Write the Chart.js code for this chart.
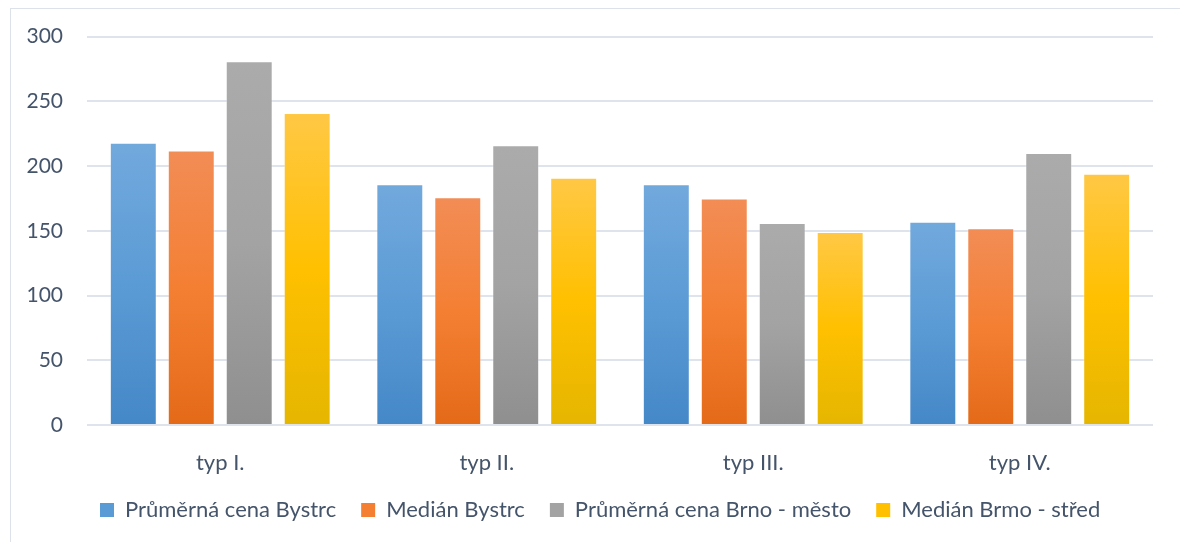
<!DOCTYPE html>
<html>
<head>
<meta charset="utf-8">
<script src="https://cdn.jsdelivr.net/npm/chart.js@4/dist/chart.umd.min.js"></script>
<style>
  html, body { margin: 0; padding: 0; background: #fff; }
  #ramec { position: absolute; left: 10px; top: 8px; width: 1200px; height: 600px; border: 1px solid #dde2ea; }
  #obal { position: absolute; left: 0; top: 0; width: 1180px; height: 542px; }
</style>
</head>
<body>
<div id="ramec"></div>
<div id="obal"><canvas id="Graf"></canvas></div>
<script>
// kategorie a hodnoty
var kategorie = ['typ I.', 'typ II.', 'typ III.', 'typ IV.'];
var prumerBystrc = [218, 186, 186, 157];
var medianBystrc = [212, 176, 175, 152];
var prumerBrno = [281, 216, 156, 210];
var medianBrno = [241, 191, 149, 194];
var nazvySerii = ['Průměrná cena Bystrc', 'Medián Bystrc', 'Průměrná cena Brno - město', 'Medián Brmo - střed'];
var osaY = { min: 0, max: 300, krok: 50 };

// barvy přechodu: nahoře, uprostřed, dole
var prechody = [
    ['#72a9dd', '#5b9bd5', '#4588c8'],
    ['#f28d56', '#f47f33', '#e46a18'],
    ['#ababab', '#a3a3a3', '#8f8f8f'],
    ['#ffc845', '#ffc000', '#e5b600']
];

function prechod(idx) {
    return function (ctx) {
        var chart = ctx.chart;
        if (!chart.chartArea || ctx.type !== 'data') return prechody[idx][1];
        var y = chart.scales.y;
        var horni = y.getPixelForValue(ctx.raw);
        var dolni = y.getPixelForValue(0);
        var g = chart.ctx.createLinearGradient(0, horni, 0, dolni);
        g.addColorStop(0, prechody[idx][0]);
        g.addColorStop(0.5, prechody[idx][1]);
        g.addColorStop(1, prechody[idx][2]);
        return g;
    };
}

var hodnoty = [prumerBystrc, medianBystrc, prumerBrno, medianBrno];
var datasets = hodnoty.map(function (d, i) {
    return {
        label: nazvySerii[i],
        data: d,
        backgroundColor: prechod(i),
        borderColor: 'rgba(255,255,255,0.3)',
        borderWidth: 1,
        categoryPercentage: 0.87,
        barPercentage: 0.81
    };
});

var textBarva = '#44546a';
var pismo = 'Lato';

// posun legendy, aby začínala tam kde v originále
var posunLegendy = {
    id: 'posunLegendy',
    afterLayout: function (chart) {
        chart.legend.left = 75;
        chart.legend.top = 474;
    }
};

new Chart(document.getElementById('Graf').getContext('2d'), {
    type: 'bar',
    data: { labels: kategorie, datasets: datasets },
    plugins: [posunLegendy],
    options: {
        responsive: true,
        maintainAspectRatio: false,
        animation: false,
        layout: { padding: { left: 0, right: 27, top: 30, bottom: 0 } },
        plugins: {
            title: { display: false },
            tooltip: { enabled: false },
            legend: {
                position: 'bottom',
                align: 'start',
                labels: {
                    color: textBarva,
                    font: { family: pismo, size: 22 },
                    boxWidth: 14,
                    boxHeight: 14,
                    padding: 25,
                    generateLabels: function (chart) {
                        return nazvySerii.map(function (n, i) {
                            return {
                                text: n,
                                fillStyle: prechody[i][1],
                                strokeStyle: prechody[i][1],
                                lineWidth: 0,
                                datasetIndex: i,
                                fontColor: textBarva
                            };
                        });
                    }
                }
            }
        },
        scales: {
            y: {
                min: osaY.min,
                max: osaY.max,
                ticks: { stepSize: osaY.krok, color: textBarva, font: { family: pismo, size: 21 }, padding: 24 },
                grid: { color: '#dfe3eb', lineWidth: 2, drawTicks: false },
                border: { display: false },
                afterFit: function (s) { s.width = 87; }
            },
            x: {
                ticks: { color: textBarva, font: { family: pismo, size: 22 }, padding: 25 },
                grid: { display: false, drawTicks: false },
                border: { display: false },
                afterFit: function (s) { s.height = 60; }
            }
        }
    }
});
</script>
</body>
</html>
